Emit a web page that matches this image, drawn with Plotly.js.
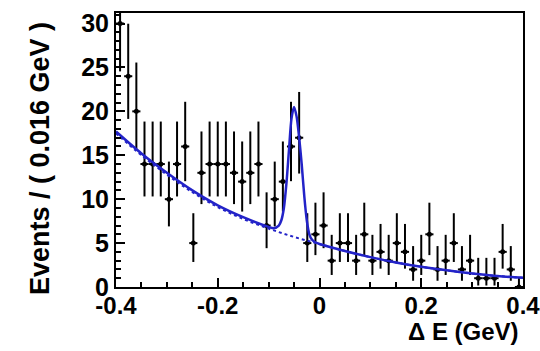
<!DOCTYPE html>
<html>
<head>
<meta charset="utf-8">
<script src="https://cdn.plot.ly/plotly-3.0.1.min.js"></script>
<style>
  html, body { margin: 0; padding: 0; background: #ffffff; }
  #plot { width: 540px; height: 351px; }
</style>
</head>
<body>
<div id="plot"></div>
<script>
// Delta E distribution, 50 bins of 0.016 GeV between -0.4 and 0.4 GeV
const binCenters = [-0.392,-0.376,-0.360,-0.344,-0.328,-0.312,-0.296,-0.280,-0.264,-0.248,
                    -0.232,-0.216,-0.200,-0.184,-0.168,-0.152,-0.136,-0.120,-0.104,-0.088,
                    -0.072,-0.056,-0.040,-0.024,-0.008,0.008,0.024,0.040,0.056,0.072,
                    0.088,0.104,0.120,0.136,0.152,0.168,0.184,0.200,0.216,0.232,
                    0.248,0.264,0.280,0.296,0.312,0.328,0.344,0.360,0.376,0.392];
const binHalfWidth = 0.008;

const counts = [30,24,20,14,14,14,10,14,16,5,
                13,14,14,14,13,12,13,14,7,10,
                12,16,17,5,6,7,3,5,5,3,
                6,3,4,3,5,4,2,3,6,2,
                3,5,2,3,1,1,1,4,2,0];

// asymmetric Poisson (68%) uncertainties per bin
const errHigh = [6.55,5.98,5.56,4.84,4.84,4.84,4.28,4.84,5.09,3.40,
                 4.71,4.84,4.84,4.84,4.71,4.57,4.71,4.84,3.78,4.28,
                 4.57,5.09,5.21,3.40,3.60,3.78,2.94,3.40,3.40,2.94,
                 3.60,2.94,3.18,2.94,3.40,3.18,2.66,2.94,3.60,2.66,
                 2.94,3.40,2.66,2.94,2.32,2.32,2.32,3.18,2.66,1.15];
const errLow  = [5.45,4.86,4.43,3.69,3.69,3.69,3.10,3.69,3.95,2.15,
                 3.56,3.69,3.69,3.69,3.56,3.41,3.56,3.69,2.58,3.10,
                 3.41,3.95,4.08,2.15,2.37,2.58,1.63,2.15,2.15,1.63,
                 2.37,1.63,1.91,1.63,2.15,1.91,1.29,1.63,2.37,1.29,
                 1.63,2.15,1.29,1.63,0.83,0.83,0.83,1.91,1.29,0];

// background component of the fit
const bkgX = [-0.4,-0.35,-0.3,-0.25,-0.2,-0.15,-0.1,-0.05,0,0.05,0.1,0.15,0.2,0.25,0.3,0.35,0.4];
const bkgY = [17.5,15.0,12.8,10.8,9.1,7.75,6.65,5.7,4.9,4.1,3.4,2.8,2.3,1.9,1.55,1.25,1.05];

// total fit (signal peak + background)
const fitX = [-0.4,-0.35,-0.3,-0.25,-0.2,-0.15,-0.1,-0.09,-0.08,-0.075,-0.07,-0.065,-0.06,-0.055,
              -0.05,-0.045,-0.04,-0.035,-0.03,-0.025,-0.02,-0.015,-0.01,0,0.05,0.1,0.15,0.2,0.25,0.3,0.35,0.4];
const fitY = [17.7,15.2,13.0,11.0,9.3,7.95,6.85,6.7,7.0,7.6,9.0,11.8,15.6,19.2,
              20.5,19.4,17.0,14.0,10.4,7.6,6.0,5.4,5.15,4.9,4.1,3.4,2.8,2.3,1.9,1.55,1.25,1.05];

const xTickVals = [-0.4,-0.2,0,0.2,0.4];
const xTickText = ['-0.4','-0.2','0','0.2','0.4'];
const yTickVals = [0,5,10,15,20,25,30];
const yTickText = ['0','5','10','15','20','25','30'];

const fitBlue = '#2323c8';
const fontFamily = 'Liberation Sans, Arial, sans-serif';
const labelFont = { family: fontFamily, size: 24, color: '#000000', weight: 700 };

const traces = [
  {
    type: 'scatter', mode: 'markers',
    x: binCenters, y: counts,
    marker: { color: '#000000', size: 5, symbol: 'circle' },
    error_x: { type: 'constant', value: binHalfWidth, color: '#000000', thickness: 2, width: 0 },
    error_y: { type: 'data', symmetric: false, array: errHigh, arrayminus: errLow,
               color: '#000000', thickness: 2, width: 0 },
    cliponaxis: true,
    hoverinfo: 'skip'
  },
  {
    type: 'scatter', mode: 'lines',
    x: bkgX, y: bkgY,
    line: { color: fitBlue, width: 2, dash: 'dot', shape: 'spline', smoothing: 1 },
    hoverinfo: 'skip'
  },
  {
    type: 'scatter', mode: 'lines',
    x: fitX, y: fitY,
    line: { color: fitBlue, width: 2.5, shape: 'spline', smoothing: 0.8 },
    hoverinfo: 'skip'
  }
];

const layout = {
  width: 540, height: 351,
  margin: { l: 116, r: 17, t: 13, b: 64, pad: 0 },
  paper_bgcolor: '#ffffff', plot_bgcolor: '#ffffff',
  showlegend: false,
  font: labelFont,
  xaxis: {
    range: [-0.4, 0.4],
    tickmode: 'array', tickvals: xTickVals, ticktext: xTickText,
    ticks: 'inside', ticklen: 9, tickwidth: 2, tickcolor: '#000000',
    minor: { dtick: 0.05, tick0: 0, ticks: 'inside', ticklen: 5, tickwidth: 2, tickcolor: '#000000', showgrid: false },
    showline: true, linecolor: '#000000', linewidth: 2, mirror: true,
    showgrid: false, zeroline: false,
    ticklabeloverflow: 'allow',
    ticklabelstandoff: -4,
    tickfont: labelFont
  },
  yaxis: {
    range: [0, 31.2],
    tickmode: 'array', tickvals: yTickVals, ticktext: yTickText,
    ticks: 'inside', ticklen: 9, tickwidth: 2, tickcolor: '#000000',
    minor: { dtick: 1, tick0: 0, ticks: 'inside', ticklen: 5, tickwidth: 2, tickcolor: '#000000', showgrid: false },
    showline: true, linecolor: '#000000', linewidth: 2, mirror: true,
    showgrid: false, zeroline: false,
    ticklabeloverflow: 'allow',
    tickfont: { family: fontFamily, size: 25, color: '#000000', weight: 700 }
  },
  annotations: [
    {
      text: 'Δ E (GeV)', xref: 'paper', yref: 'paper',
      x: 0.995, y: -0.218, xanchor: 'right', yanchor: 'bottom',
      showarrow: false,
      font: { family: fontFamily, size: 24, color: '#000000', weight: 700 }
    },
    {
      text: 'Events / ( 0.016 GeV )', xref: 'paper', yref: 'paper',
      x: -0.187, y: 0.47, xanchor: 'center', yanchor: 'middle',
      textangle: -90, showarrow: false,
      font: { family: fontFamily, size: 27, color: '#000000', weight: 700 }
    }
  ]
};

Plotly.newPlot('plot', traces, layout, { staticPlot: true, displayModeBar: false });
</script>
</body>
</html>
